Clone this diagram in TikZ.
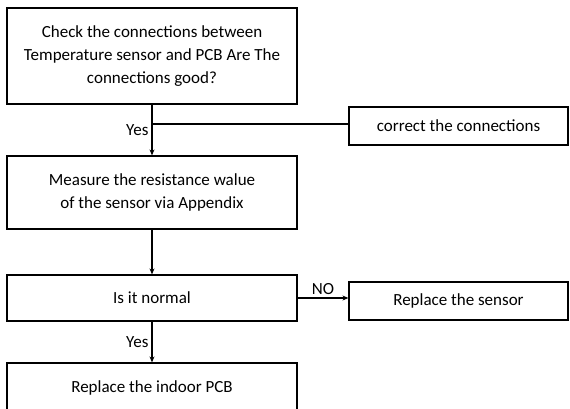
\documentclass[tikz,border=0pt]{standalone}
\usepackage{fontspec}
\setmainfont{Carlito}
\usepackage{tikz}
\usetikzlibrary{arrows.meta}
\usetikzlibrary{positioning}
\tikzset{
flow box/.style = { rectangle, draw = black, line width = 1.2pt, fill = white, align = center, inner sep = 0pt, font = \fontsize{17}{23}\selectfont },
main box/.style = { flow box, minimum width = 290pt },
side box/.style = { flow box, minimum width = 219pt, minimum height = 38pt },
flow line/.style = { draw = black, line width = 1.2pt },
flow arrow/.style = { flow line, -{Stealth[length = 6pt, width = 5pt]} },
flow label/.style = { font = \fontsize{17}{20}\selectfont, inner sep = 3pt },
}

\begin{document}
\begin{tikzpicture}[x = 1pt, y = -1pt]
  \useasboundingbox (0, 0) rectangle (570, 409);
  \clip (0, 0) rectangle (570, 409);
  % left column
  \node[main box, minimum height = 96pt] (check) at (152, 56) {Check the connections between\\Temperature sensor and PCB Are The\\connections good?};
  \node[main box, minimum height = 73pt] (measure) at (152, 192.5) {Measure the resistance walue\\of the sensor via Appendix};
  \node[main box, minimum height = 46pt] (normal) at (152, 298) {Is it normal};
  \node[main box, minimum height = 50pt] (indoor) at (152, 388) {Replace the indoor PCB};
  % right column
  \node[side box] (correct) at (458.5, 126) {correct the connections};
  \node[side box] (sensor) at (458.5, 301) {Replace the sensor};
  % connectors
  \coordinate (yesjoin) at (152, 124);
  \draw[flow arrow] (check.south) -- node[flow label, left] {Yes} (measure.north);
  \draw[flow line] (yesjoin) -- (yesjoin -| correct.west);
  \draw[flow arrow] (measure.south) -- (normal.north);
  \draw[flow arrow] (normal.east) -- node[flow label, above] {NO} (normal.east -| sensor.west);
  \draw[flow arrow] (normal.south) -- node[flow label, left] {Yes} (indoor.north);
\end{tikzpicture}
\end{document}
